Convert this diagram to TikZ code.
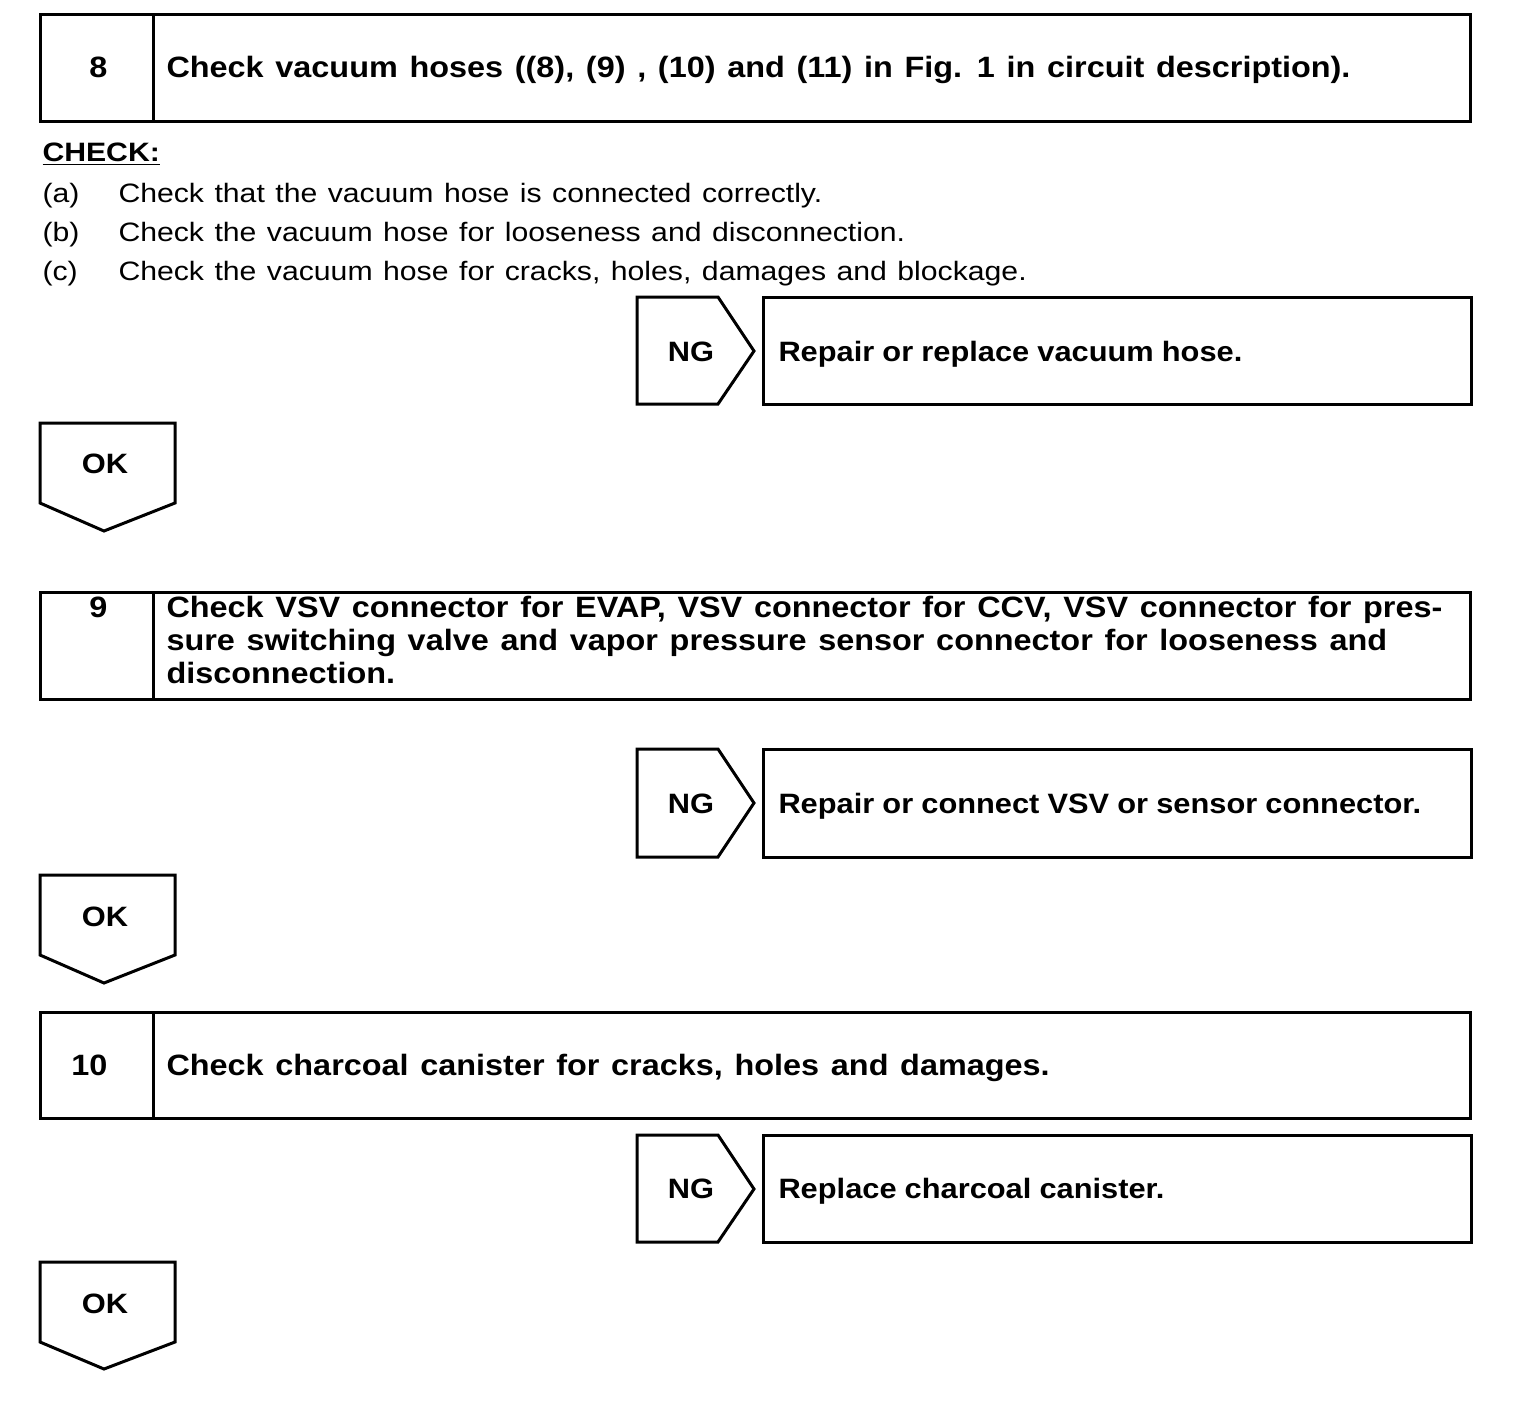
\documentclass[tikz,border=0pt]{standalone}
\usepackage{fontspec}
\setmainfont{Liberation Sans}
\newfontfamily\stepfont[FakeStretch=1.102,WordSpace=1.3]{Liberation Sans}
\newfontfamily\ngfont[FakeStretch=1.1,WordSpace=0.95]{Liberation Sans}
\newfontfamily\bodyfont[FakeStretch=1.135,WordSpace=1.25]{Liberation Sans}
\usetikzlibrary{positioning}

\begin{document}
\begin{tikzpicture}[x=0.5pt,y=-0.5pt,line width=1.5pt,
	title/.style={font=\stepfont\bfseries\fontsize{14.7}{16.5}\selectfont,inner sep=0pt},
	result/.style={font=\ngfont\bfseries\fontsize{14}{16.5}\selectfont,inner sep=0pt},
	plain/.style={font=\bodyfont\fontsize{13.3}{16}\selectfont,inner sep=0pt,anchor=base west}]
		\useasboundingbox (0,0) rectangle (1520,1404);
		% step 8
		\draw (40,14) rectangle (1470,121);
		\draw (153,14) -- (153,121);
		\node[title,anchor=base east] (num8) at (109,77) {8};
		\node[title,anchor=base west] (txt8) at (165,77) {Check vacuum hoses ((8), (9) , (10) and (11) in Fig. 1 in circuit description).};
		\node[plain] (check) at (41,161) {\bfseries\underline{CHECK:}};
		\node[plain] (la) at (41,202) {(a)};
		\node[plain] (ta) at (117,202) {Check that the vacuum hose is connected correctly.};
		\node[plain] (lb) at (41,241) {(b)};
		\node[plain] (tb) at (117,241) {Check the vacuum hose for looseness and disconnection.};
		\node[plain] (lc) at (41,280) {(c)};
		\node[plain] (tc) at (117,280) {Check the vacuum hose for cracks, holes, damages and blockage.};
		\draw (637,297) -- (718,297) -- (754,351) -- (718,404) -- (637,404) -- cycle;
		\node[result,anchor=base] (ng8) at (691,361) {NG};
		\draw (763,297) rectangle (1471,404);
		\node[result,anchor=base west] (fix8) at (777,361) {Repair or replace vacuum hose.};
		\draw (40,423) -- (175,423) -- (175,503) -- (104,531) -- (40,503) -- cycle;
		\node[result,anchor=base] (ok8) at (105,473) {OK};
		% step 9
		\draw (40,592) rectangle (1470,699);
		\draw (153,592) -- (153,699);
		\node[title,anchor=base east] (num9) at (109,617) {9};
		\node[title,anchor=north west,align=left] (txt9) at (165,594.5) {Check VSV connector for EVAP, VSV connector for CCV, VSV connector for pres-\\sure switching valve and vapor pressure sensor connector for looseness and\\disconnection.};
		\draw (637,749) -- (718,749) -- (754,803) -- (718,857) -- (637,857) -- cycle;
		\node[result,anchor=base] (ng9) at (691,813) {NG};
		\draw (763,749) rectangle (1471,857);
		\node[result,anchor=base west] (fix9) at (777,813) {Repair or connect VSV or sensor connector.};
		\draw (40,875) -- (175,875) -- (175,955) -- (104,983) -- (40,955) -- cycle;
		\node[result,anchor=base] (ok9) at (105,926) {OK};
		% step 10
		\draw (40,1012) rectangle (1470,1118);
		\draw (153,1012) -- (153,1118);
		\node[title,anchor=base east] (num10) at (109,1075) {10};
		\node[title,anchor=base west] (txt10) at (165,1075) {Check charcoal canister for cracks, holes and damages.};
		\draw (637,1135) -- (718,1135) -- (754,1189) -- (718,1242) -- (637,1242) -- cycle;
		\node[result,anchor=base] (ng10) at (691,1198) {NG};
		\draw (763,1135) rectangle (1471,1242);
		\node[result,anchor=base west] (fix10) at (777,1198) {Replace charcoal canister.};
		\draw (40,1262) -- (175,1262) -- (175,1342) -- (104,1369) -- (40,1342) -- cycle;
		\node[result,anchor=base] (ok10) at (105,1313) {OK};
	\end{tikzpicture}
\end{document}
